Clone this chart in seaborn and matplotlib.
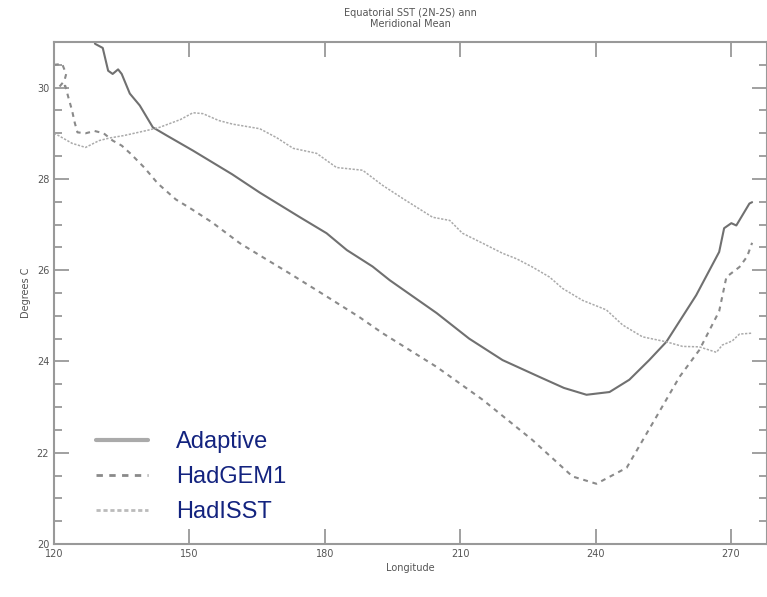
import matplotlib
matplotlib.use("Agg")
import matplotlib.pyplot as plt
from matplotlib.ticker import MultipleLocator
import seaborn as sns
import numpy as np

# longitude (deg E) / SST (deg C)
adaptive_lon = [128.5, 129.1, 130.8, 132.0, 133.0, 134.2, 135.0, 136.8, 139.0, 141.9, 145.0,
                150.8, 159.5, 165.6, 174.5, 180.4, 184.9, 190.6, 194.4, 204.8, 212.0, 219.4,
                227.6, 233.0, 238.0, 243.1, 247.5, 251.9, 255.7, 262.3, 267.4, 268.5, 270.1,
                271.2, 274.1, 274.7]
adaptive_sst = [31.3, 30.96, 30.87, 30.37, 30.30, 30.40, 30.30, 29.87, 29.61, 29.13, 28.95,
                28.62, 28.10, 27.70, 27.16, 26.81, 26.44, 26.08, 25.78, 25.06, 24.50, 24.03,
                23.66, 23.42, 23.27, 23.33, 23.60, 24.03, 24.43, 25.45, 26.40, 26.92, 27.03,
                26.98, 27.46, 27.49]

hadgem1_lon = [120.0, 121.8, 122.7, 122.3, 121.2, 122.5, 123.2, 124.0, 124.6, 125.2, 127.0,
               129.0, 131.0, 133.0, 135.0, 137.0, 140.0, 143.0, 147.0, 150.3, 155.0, 161.2,
               166.0, 172.2, 180.0, 187.7, 192.8, 204.8, 215.0, 226.0, 234.9, 240.2, 246.9,
               253.5, 258.6, 263.0, 267.4, 269.0, 271.9, 273.6, 274.7]
hadgem1_sst = [30.50, 30.52, 30.30, 30.15, 30.02, 30.04, 29.78, 29.50, 29.23, 29.02, 29.00,
               29.05, 29.00, 28.84, 28.73, 28.55, 28.25, 27.90, 27.55, 27.35, 27.05, 26.59,
               26.30, 25.93, 25.45, 24.97, 24.62, 23.88, 23.16, 22.28, 21.48, 21.32, 21.67,
               22.79, 23.66, 24.25, 25.10, 25.85, 26.07, 26.30, 26.60]

hadisst_lon = [120.0, 121.0, 124.0, 127.0, 130.0, 132.5, 135.5, 140.5, 143.4, 148.0, 150.8,
               153.0, 156.5, 159.6, 165.6, 169.4, 173.0, 178.2, 182.6, 188.4, 192.8, 197.3,
               203.9, 207.7, 210.5, 215.0, 219.4, 222.5, 226.0, 229.8, 232.7, 237.1, 242.4,
               246.0, 250.4, 255.7, 259.3, 263.0, 266.8, 268.1, 270.3, 271.9, 274.7]
hadisst_sst = [29.00, 28.95, 28.78, 28.69, 28.84, 28.90, 28.95, 29.06, 29.13, 29.30, 29.45,
               29.43, 29.28, 29.20, 29.10, 28.90, 28.67, 28.56, 28.25, 28.19, 27.86, 27.57,
               27.16, 27.09, 26.81, 26.59, 26.37, 26.25, 26.07, 25.85, 25.60, 25.34, 25.13,
               24.80, 24.54, 24.43, 24.33, 24.32, 24.20, 24.36, 24.45, 24.60, 24.62]

series_names = ["Adaptive", "HadGEM1", "HadISST"]
x_ticks = [120, 150, 180, 210, 240, 270]
y_ticks = [20, 22, 24, 26, 28, 30]

sns.set_style("ticks")
plt.rcParams['font.family'] = ['DejaVu Sans']

fig = plt.figure(figsize=(7.67, 5.97), dpi=100)
ax = fig.add_axes([54 / 767, 53 / 597, 713 / 767, 502 / 597])

sns.lineplot(x=adaptive_lon, y=adaptive_sst, sort=False, ax=ax, color="#707070",
             lw=1.5, label=series_names[0], legend=False)
sns.lineplot(x=hadgem1_lon, y=hadgem1_sst, sort=False, ax=ax, color="#8a8a8a",
             lw=1.5, label=series_names[1], legend=False)
sns.lineplot(x=hadisst_lon, y=hadisst_sst, sort=False, ax=ax, color="#aaaaaa",
             lw=1.1, label=series_names[2], legend=False)
lines = ax.get_lines()
lines[1].set_linestyle((0, (2.3, 2.3)))
lines[2].set_linestyle((0, (1.5, 1)))

ax.set_xlim(120, 278)
ax.set_ylim(20, 31)
ax.set_xticks(x_ticks)
ax.set_yticks(y_ticks)
ax.yaxis.set_minor_locator(MultipleLocator(0.5))
ax.tick_params(which="both", direction="in", top=True, right=True, colors="#999999",
               labelcolor="#555555", labelsize=7, width=1.3)
ax.tick_params(which="major", length=11)
ax.tick_params(which="minor", length=6)
ax.tick_params(axis="x", which="minor", bottom=False, top=False)
for s in ax.spines.values():
    s.set_color("#999999")
    s.set_linewidth(1.5)

ax.set_xlabel("Longitude", fontsize=7, color="#555555", labelpad=3)
ax.set_ylabel("Degrees C", fontsize=7, color="#555555", labelpad=4)
fig.text(410 / 767, 1 - 13 / 597, "Equatorial SST (2N-2S) ann", ha="center", va="center",
         fontsize=7, color="#555555")
fig.text(410 / 767, 1 - 24 / 597, "Meridional Mean", ha="center", va="center",
         fontsize=7, color="#555555")

leg = ax.legend(handles=lines, labels=series_names,
                loc="upper left", bbox_to_anchor=(96 / 767, 1 - 431 / 597),
                bbox_transform=fig.transFigure, frameon=False, borderpad=0,
                borderaxespad=0, handlelength=2.2, handletextpad=1.2,
                labelspacing=0.55, prop={"family": "Liberation Sans", "size": 17})
for t in leg.get_texts():
    t.set_color("#13237f")
leg_lines = leg.get_lines()
leg_lines[0].set_linewidth(3)
leg_lines[0].set_color("#aaaaaa")
leg_lines[1].set_linewidth(2)
leg_lines[2].set_linewidth(2)
leg_lines[2].set_color("#bbbbbb")

fig.savefig("out.png", dpi=100)
